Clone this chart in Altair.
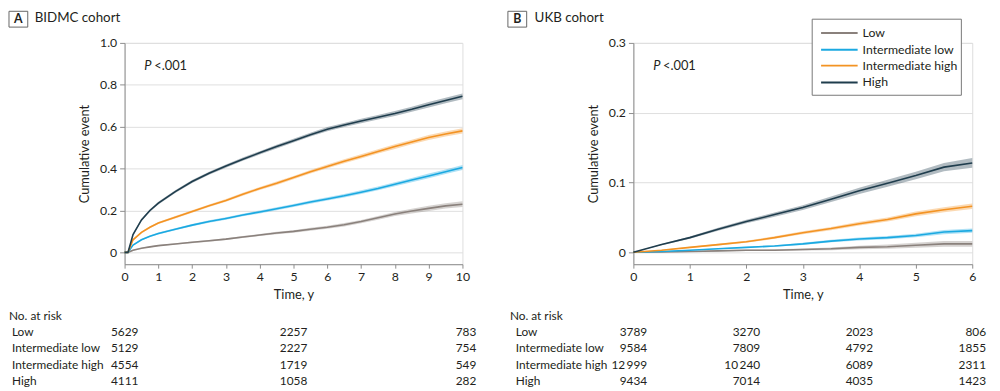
import altair as alt
import pandas as pd

groups = ["Low", "Intermediate low", "Intermediate high", "High"]
colors = ["#8a817c", "#1ba9e1", "#f39323", "#1f3d4d"]

# ---- Panel A (BIDMC) ----
a_time = [0, 0.1, 0.25, 0.5, 0.75, 1, 1.5, 2, 2.5, 3, 3.5, 4, 4.5, 5, 5.5, 6, 6.5, 7, 7.5, 8, 8.5, 9, 9.5, 10]
a_low = [0, 0, 0.01, 0.02, 0.026, 0.032, 0.04, 0.048, 0.055, 0.063, 0.073, 0.083, 0.092, 0.1, 0.11, 0.12, 0.132, 0.147, 0.165, 0.183, 0.197, 0.21, 0.222, 0.23]
a_intlow = [0, 0, 0.035, 0.06, 0.077, 0.09, 0.11, 0.13, 0.147, 0.162, 0.178, 0.193, 0.208, 0.224, 0.24, 0.255, 0.27, 0.287, 0.305, 0.325, 0.345, 0.365, 0.385, 0.405]
a_inthigh = [0, 0, 0.06, 0.095, 0.12, 0.14, 0.168, 0.195, 0.222, 0.248, 0.277, 0.305, 0.33, 0.357, 0.385, 0.41, 0.435, 0.458, 0.482, 0.505, 0.527, 0.548, 0.565, 0.58]
a_high = [0, 0, 0.085, 0.155, 0.2, 0.235, 0.29, 0.338, 0.378, 0.412, 0.445, 0.475, 0.505, 0.533, 0.562, 0.588, 0.608, 0.627, 0.645, 0.663, 0.683, 0.705, 0.725, 0.745]
a_low_ci = [0, 0, 0.002, 0.002, 0.003, 0.003, 0.003, 0.004, 0.004, 0.004, 0.005, 0.005, 0.006, 0.006, 0.007, 0.007, 0.008, 0.008, 0.009, 0.01, 0.011, 0.012, 0.013, 0.014]
a_intlow_ci = [0, 0, 0.003, 0.004, 0.004, 0.005, 0.005, 0.005, 0.006, 0.006, 0.006, 0.007, 0.007, 0.007, 0.008, 0.008, 0.008, 0.009, 0.009, 0.01, 0.01, 0.011, 0.011, 0.012]
a_inthigh_ci = [0, 0, 0.004, 0.005, 0.005, 0.005, 0.006, 0.006, 0.006, 0.007, 0.007, 0.007, 0.008, 0.008, 0.008, 0.009, 0.009, 0.01, 0.01, 0.011, 0.011, 0.012, 0.012, 0.013]
a_high_ci = [0, 0, 0.005, 0.006, 0.006, 0.006, 0.007, 0.007, 0.007, 0.008, 0.008, 0.008, 0.009, 0.009, 0.009, 0.01, 0.01, 0.011, 0.011, 0.012, 0.012, 0.013, 0.013, 0.014]
a_risk_times = [0, 5, 10]
a_risk_low = ["5629", "2257", "783"]
a_risk_intlow = ["5129", "2227", "754"]
a_risk_inthigh = ["4554", "1719", "549"]
a_risk_high = ["4111", "1058", "282"]

# ---- Panel B (UKB) ----
b_time = [0, 0.5, 1, 1.5, 2, 2.5, 3, 3.5, 4, 4.5, 5, 5.5, 6]
b_low = [0, 0.0005, 0.001, 0.002, 0.003, 0.003, 0.004, 0.005, 0.007, 0.008, 0.01, 0.012, 0.012]
b_intlow = [0, 0.001, 0.003, 0.005, 0.007, 0.009, 0.012, 0.016, 0.019, 0.021, 0.024, 0.029, 0.031]
b_inthigh = [0, 0.003, 0.007, 0.011, 0.015, 0.021, 0.028, 0.034, 0.041, 0.047, 0.055, 0.061, 0.066]
b_high = [0, 0.011, 0.021, 0.033, 0.044, 0.054, 0.064, 0.076, 0.088, 0.099, 0.11, 0.122, 0.128]
b_low_ci = [0, 0.0003, 0.0005, 0.0008, 0.001, 0.0012, 0.0015, 0.002, 0.0025, 0.003, 0.0035, 0.004, 0.004]
b_intlow_ci = [0, 0.0003, 0.0006, 0.0008, 0.001, 0.0012, 0.0015, 0.0018, 0.002, 0.0022, 0.0025, 0.003, 0.003]
b_inthigh_ci = [0, 0.0005, 0.001, 0.0012, 0.0015, 0.0018, 0.002, 0.0023, 0.0026, 0.003, 0.0033, 0.0036, 0.004]
b_high_ci = [0, 0.001, 0.0015, 0.002, 0.0025, 0.003, 0.0035, 0.004, 0.0045, 0.005, 0.0055, 0.006, 0.007]
b_risk_times = [0, 2, 4, 6]
b_risk_low = ["3789", "3270", "2023", "806"]
b_risk_intlow = ["9584", "7809", "4792", "1855"]
b_risk_inthigh = ["12\u2009999", "10\u2009240", "6089", "2311"]
b_risk_high = ["9434", "7014", "4035", "1423"]

FONT = "Lato"
TXT = "#231f20"
AX = "#8c8c8c"
FS = 12.4
TFS = 12
ROWS = [276, 293, 309, 326, 342]


def curve_df(times, ests, cis):
    rows = []
    for g, est, ci in zip(groups, ests, cis):
        for t, e, c in zip(times, est, ci):
            rows.append({"time": t, "group": g, "est": e, "lo": max(e - c, 0), "hi": e + c})
    return pd.DataFrame(rows)


one = pd.DataFrame({"k": [0]})


def deco_text(txt, x, y, align="left", size=FS, weight="normal", style="normal"):
    return alt.Chart(one).mark_text(
        text=txt, align=align, baseline="middle", fontSize=size, fontWeight=weight,
        fontStyle=style, color=TXT, font=FONT
    ).encode(x=alt.value(x), y=alt.value(y))


def panel(times, ests, cis, xmax, width, ydom, yvals, risk_times, risks, letter, title,
          box_x, title_x, norisk_x, rowlab_x, legend):
    df = curve_df(times, ests, cis)
    xscale = alt.Scale(domain=[0, xmax], nice=False, zero=False)
    yscale = alt.Scale(domain=ydom, nice=False, zero=False)
    xaxis = alt.Axis(values=list(range(0, xmax + 1)), title="Time, y", grid=False, format="d",
                     labelOverlap=False, domainColor=AX, tickColor=AX, tickSize=4, labelPadding=3,
                     labelFontSize=FS, titleFontSize=13, titleFontWeight="normal",
                     titlePadding=5, labelColor=TXT, titleColor=TXT, labelFlush=False)
    yaxis = alt.Axis(values=yvals, title="Cumulative event", grid=True, gridColor="#dedede",
                     labelOverlap=False, domainColor=AX, tickColor=AX, tickSize=5, labelPadding=3,
                     labelFontSize=FS, titleFontSize=13, titleFontWeight="normal",
                     titlePadding=8, labelColor=TXT, titleColor=TXT,
                     labelExpr="datum.value == 0 ? '0' : format(datum.value, '.1f')")
    color = alt.Color("group:N", scale=alt.Scale(domain=groups, range=colors), legend=None)
    base = alt.Chart(df).encode(x=alt.X("time:Q", scale=xscale, axis=xaxis), color=color)
    band = base.mark_area(opacity=0.35).encode(
        y=alt.Y("lo:Q", scale=yscale, axis=yaxis), y2="hi:Q")
    line = base.mark_line(strokeWidth=1.6).encode(y=alt.Y("est:Q", scale=yscale, axis=yaxis))
    layers = [band, line]
    # P value
    layers.append(deco_text("P", 20, 23, size=13, style="italic"))
    layers.append(deco_text("<.001", 30, 23, size=13))
    # panel label
    layers.append(alt.Chart(one).mark_rect(fill="white", stroke="#666666", strokeWidth=1).encode(
        x=alt.value(box_x), x2=alt.value(box_x + 19), y=alt.value(-32), y2=alt.value(-16)))
    layers.append(deco_text(letter, box_x + 9.5, -24, align="center", size=12.5, weight="bold"))
    layers.append(deco_text(title, title_x, -25, size=13.5))
    # risk table
    layers.append(deco_text("No. at risk", norisk_x, ROWS[0], size=TFS))
    for i, (g, vals) in enumerate(zip(groups, risks)):
        rdf = pd.DataFrame({"time": risk_times, "label": vals})
        layers.append(deco_text(g, rowlab_x, ROWS[i + 1], size=TFS))
        layers.append(alt.Chart(rdf).mark_text(
            align="right", baseline="middle", dx=14, fontSize=TFS, color=TXT, font=FONT
        ).encode(x=alt.X("time:Q", scale=xscale, axis=xaxis), y=alt.value(ROWS[i + 1]), text="label:N"))
    if legend:
        lx0, lx1, ly0, ly1 = 181, 332, -24, 53
        layers.append(alt.Chart(one).mark_rect(fill="white", stroke="#777777", strokeWidth=1).encode(
            x=alt.value(lx0), x2=alt.value(lx1), y=alt.value(ly0), y2=alt.value(ly1)))
        for g, c, yy in zip(groups, colors, [-10, 7, 23, 40]):
            layers.append(alt.Chart(one).mark_rule(color=c, strokeWidth=2).encode(
                x=alt.value(190), x2=alt.value(227), y=alt.value(yy)))
            layers.append(deco_text(g, 232, yy))
    return alt.layer(*layers).properties(width=width, height=224)


pa = panel(a_time, [a_low, a_intlow, a_inthigh, a_high],
           [a_low_ci, a_intlow_ci, a_inthigh_ci, a_high_ci],
           10, 342, [-0.0566, 1.0], [0, 0.2, 0.4, 0.6, 0.8, 1.0], a_risk_times,
           [a_risk_low, a_risk_intlow, a_risk_inthigh, a_risk_high],
           "A", "BIDMC cohort", -117, -91, -117, -114, False)
pb = panel(b_time, [b_low, b_intlow, b_inthigh, b_high],
           [b_low_ci, b_intlow_ci, b_inthigh_ci, b_high_ci],
           6, 343, [-0.0171, 0.3], [0, 0.1, 0.2, 0.3], b_risk_times,
           [b_risk_low, b_risk_intlow, b_risk_inthigh, b_risk_high],
           "B", "UKB cohort", -127, -100, -125, -119, True)

chart = alt.hconcat(pa, pb, spacing=173, bounds="flush").properties(
    padding={"left": 0, "top": 0, "right": 5, "bottom": 0}
).configure_view(stroke=None).configure(font=FONT)

chart.save("out.html", embed_options={"renderer": "svg", "actions": False})
